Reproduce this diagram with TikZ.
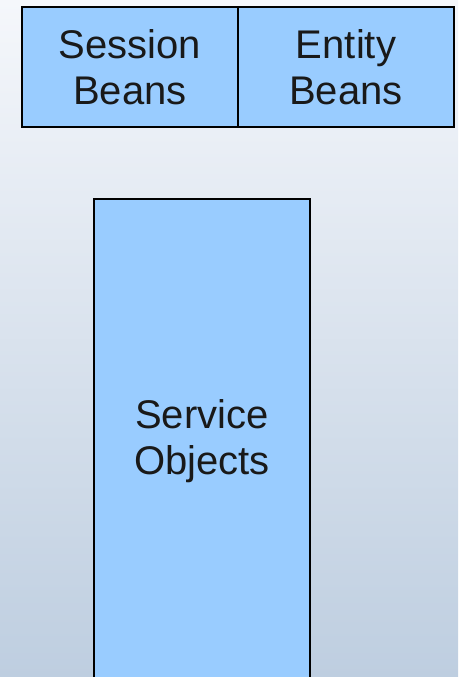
\documentclass[tikz,border=0pt]{standalone}
\usepackage{fontspec}
\setmainfont{Liberation Sans}
\definecolor{boxfill}{RGB}{153,204,255}
\definecolor{bgtop}{RGB}{245,247,251}
\definecolor{bgbot}{RGB}{190,206,224}
\begin{document}
\begin{tikzpicture}[x=1pt,y=-1pt,
  cell/.style={draw=black, line width=1.6pt, fill=boxfill, align=center,
    inner sep=0pt, font=\fontsize{40}{46}\selectfont, text=black!90},
]
\useasboundingbox (0,0) rectangle (458,677);
\clip (0,0) rectangle (458,677);
\shade[top color=bgtop, bottom color=bgbot] (0,0) rectangle (458,677);
\node[cell, minimum width=216pt, minimum height=120pt] (session) at (130,67) {Session\\Beans};
\node[cell, minimum width=216pt, minimum height=120pt] (entity) at (346,67) {Entity\\Beans};
\node[cell, minimum width=216pt, minimum height=484pt] (service) at (202,441) {Service\\Objects};
\end{tikzpicture}
\end{document}
